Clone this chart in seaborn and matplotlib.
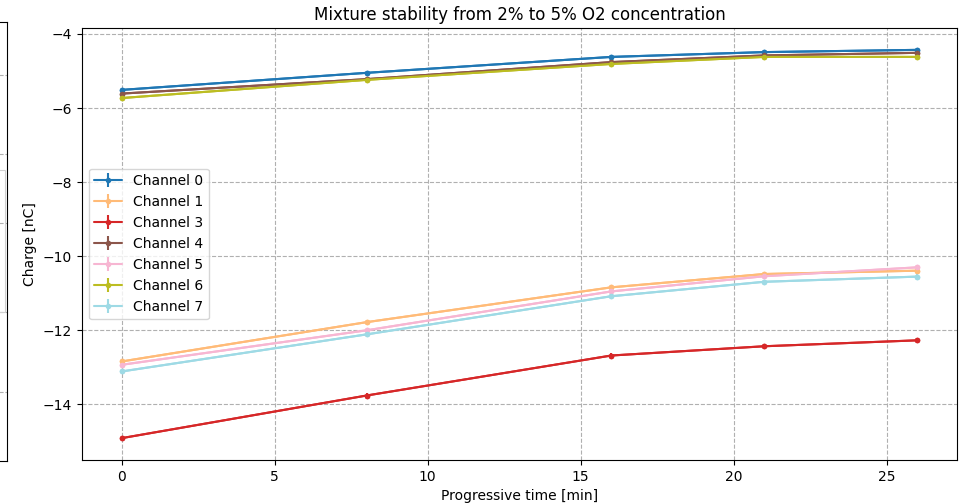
import numpy as np
import pandas as pd
import matplotlib
matplotlib.use("Agg")
import matplotlib.pyplot as plt
import seaborn as sns

time_min = [0, 8, 16, 21, 26]
channels = ["Channel 0", "Channel 1", "Channel 3", "Channel 4", "Channel 5", "Channel 6", "Channel 7"]
ch0 = [-5.51, -5.05, -4.62, -4.49, -4.43]
ch1 = [-12.84, -11.78, -10.84, -10.48, -10.39]
ch3 = [-14.91, -13.76, -12.68, -12.43, -12.27]
ch4 = [-5.61, -5.22, -4.76, -4.58, -4.51]
ch5 = [-12.93, -12.00, -10.95, -10.54, -10.30]
ch6 = [-5.73, -5.24, -4.81, -4.62, -4.62]
ch7 = [-13.11, -12.11, -11.08, -10.69, -10.55]
errs = [0.06, 0.06, 0.06, 0.06, 0.06]
colors = ["#1f77b4", "#ffbb78", "#d62728", "#8c564b", "#f7b6d2", "#bcbd22", "#9edae5"]
series = [ch0, ch1, ch3, ch4, ch5, ch6, ch7]

sns.set_theme(style="ticks")
plt.rcParams['font.family'] = ['DejaVu Sans']
plt.rcParams.update({"text.color": "black", "axes.labelcolor": "black",
                     "xtick.color": "black", "ytick.color": "black"})

fig = plt.figure(figsize=(9.68, 5.03), dpi=100)

# partially visible neighbouring panel at the left edge
ghost = fig.add_axes([-0.3, 0.0835, 0.3072, 0.8725])
ghost.set_xticks([])
ghost.set_ylim(0, 1)
ghost.set_yticks([0.157, 0.339, 0.542, 0.70, 0.88])
ghost.tick_params(left=False, labelleft=False)
ghost.grid(axis="y", linestyle="--", color="#b0b0b0", linewidth=0.8)
ghost.add_patch(plt.Rectangle((0.5, 0.339), 0.492, 0.323, fill=False,
                              edgecolor="#d0d0d0", linewidth=0.8))
for s in ghost.spines.values():
    s.set_color("black"); s.set_linewidth(0.8)

ax = fig.add_axes([0.0847, 0.0855, 0.9039, 0.8588])

df = pd.DataFrame({"time": np.tile(time_min, len(channels)),
                   "charge": np.concatenate(series),
                   "channel": np.repeat(channels, len(time_min))})
sns.lineplot(data=df, x="time", y="charge", hue="channel", palette=colors,
             marker="o", markersize=4, markeredgewidth=0, linewidth=1.5,
             legend=False, ax=ax, zorder=3)
for name, vals, c in zip(channels, series, colors):
    ax.errorbar(time_min, vals, yerr=errs, fmt=".-", color=c, label=name,
                markersize=6, linewidth=1.5, elinewidth=1.5, zorder=3)

ax.set_title("Mixture stability from 2% to 5% O2 concentration", fontsize=12, color="black")
ax.set_xlabel("Progressive time [min]", fontsize=10)
ax.set_ylabel("Charge [nC]", fontsize=10)
ax.set_xticks([0, 5, 10, 15, 20, 25])
ax.set_yticks([-4, -6, -8, -10, -12, -14])
ax.tick_params(labelsize=10, length=3.5, width=0.8, color="black", labelcolor="black")
ax.grid(True, linestyle="--", color="#b0b0b0", linewidth=0.8)
ax.set_axisbelow(True)
for s in ax.spines.values():
    s.set_color("black"); s.set_linewidth(0.8)
leg = ax.legend(loc="center left", fontsize=10, frameon=True, fancybox=True, framealpha=0.8)
for t in leg.get_texts():
    t.set_color("black")

fig.savefig("out.png", dpi=100)
